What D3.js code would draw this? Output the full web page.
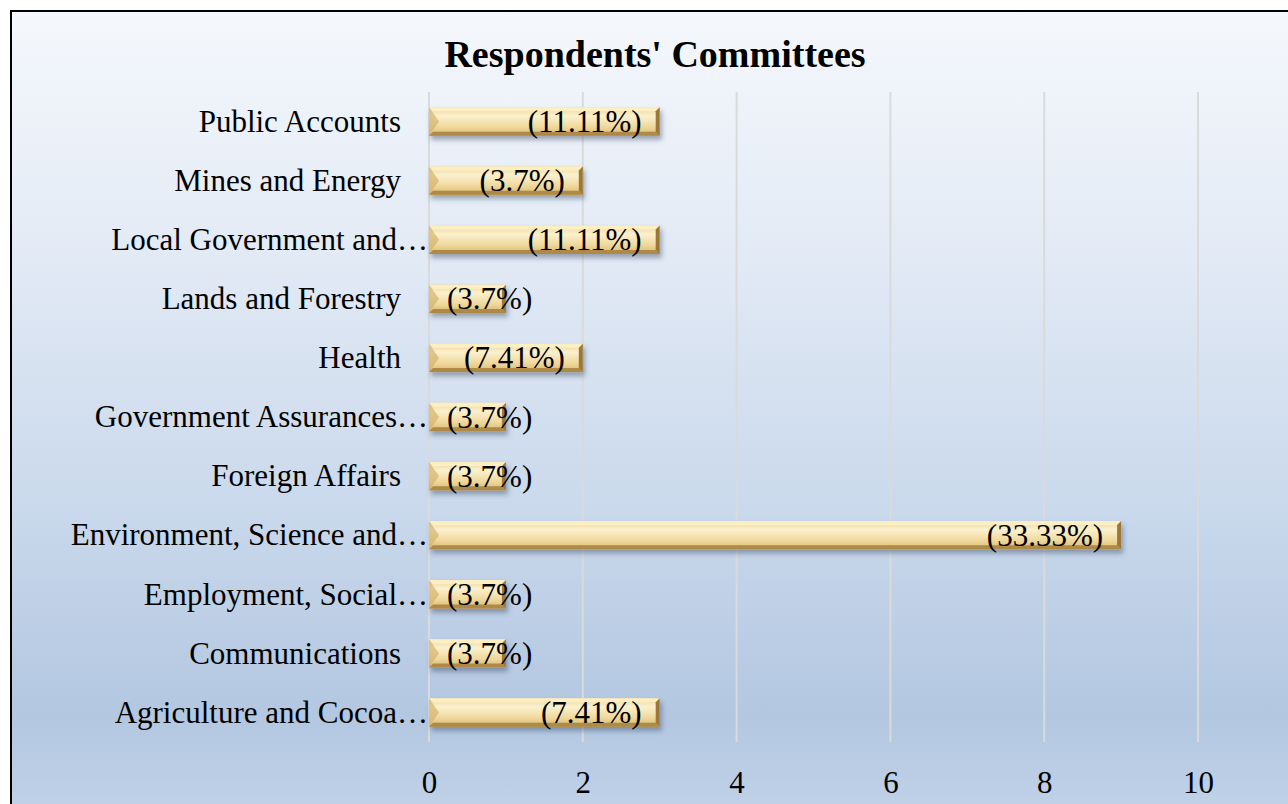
<!DOCTYPE html>
<html>
<head>
<meta charset="utf-8">
<script src="https://cdn.jsdelivr.net/npm/d3@7"></script>
<style>
  html, body { margin: 0; padding: 0; background: #ffffff; }
  svg { display: block; }
  text { font-family: "Liberation Serif", "Times New Roman", serif; fill: #000; }
</style>
</head>
<body>
<svg id="chart" width="1288" height="804"></svg>
<script>
// Committees of the respondents (top to bottom as listed)
const committees = [
  "Public Accounts",
  "Mines and Energy",
  "Local Government and\u2026",
  "Lands and Forestry",
  "Health",
  "Government Assurances\u2026",
  "Foreign Affairs",
  "Environment, Science and\u2026",
  "Employment, Social\u2026",
  "Communications",
  "Agriculture and Cocoa\u2026"
];
// Number of respondents per committee
const counts = [3, 2, 3, 1, 2, 1, 1, 9, 1, 1, 3];
// Share labels shown on each bar
const shareLabels = ["(11.11%)", "(3.7%)", "(11.11%)", "(3.7%)", "(7.41%)", "(3.7%)",
                     "(3.7%)", "(33.33%)", "(3.7%)", "(3.7%)", "(7.41%)"];
const xTicks = [0, 2, 4, 6, 8, 10];
const title = "Respondents' Committees";

const svg = d3.select("#chart");
const defs = svg.append("defs");

// Chart area background: soft blue gradient
const bg = defs.append("linearGradient").attr("id", "bgGrad")
  .attr("x1", 0).attr("y1", 0).attr("x2", 0).attr("y2", 1);
[[0, "#f5f8fc"], [0.3, "#e2eaf5"], [0.6, "#cad9ec"], [0.86, "#b3c7e1"], [1, "#c3d4e9"]]
  .forEach(([o, c]) => bg.append("stop").attr("offset", o).attr("stop-color", c));

// Gold bar face
const face = defs.append("linearGradient").attr("id", "barFace")
  .attr("x1", 0).attr("y1", 0).attr("x2", 0).attr("y2", 1);
[[0, "#ecd595"], [0.3, "#fbf1cf"], [0.7, "#efd79a"], [1, "#d6b770"]]
  .forEach(([o, c]) => face.append("stop").attr("offset", o).attr("stop-color", c));

const shadow = defs.append("filter").attr("id", "barShadow")
  .attr("x", "-5%").attr("y", "-30%").attr("width", "115%").attr("height", "190%");
shadow.append("feDropShadow").attr("dx", 2).attr("dy", 4)
  .attr("stdDeviation", 2.5).attr("flood-color", "#3a4a60").attr("flood-opacity", 0.45);

// Frame
svg.append("rect").attr("x", 11).attr("y", 11).attr("width", 1300).attr("height", 820)
  .attr("fill", "url(#bgGrad)").attr("stroke", "#000").attr("stroke-width", 2);

// Title
svg.append("text").attr("x", 655).attr("y", 67).attr("text-anchor", "middle")
  .style("font-size", "38px").style("font-weight", "bold").text(title);

// Scales
const x = d3.scaleLinear().domain([0, 10]).range([429, 1198]);
const y = d3.scaleBand().domain(committees).range([92, 742]).paddingInner(0.52).paddingOuter(0.26);

// Vertical gridlines
svg.append("g").selectAll("line").data(xTicks).join("line")
  .attr("x1", d => x(d)).attr("x2", d => x(d))
  .attr("y1", 92).attr("y2", 742)
  .attr("stroke", "#d9dadb").attr("stroke-width", 2);

// X axis tick labels
const xAxis = d3.axisBottom(x).tickValues(xTicks).tickSize(0).tickPadding(0);
const gx = svg.append("g").attr("transform", "translate(0,768)").call(xAxis);
gx.select(".domain").remove();
gx.selectAll("text").attr("dy", "0.8em").style("font-size", "31px")
  .style("font-family", "'Liberation Serif', 'Times New Roman', serif").attr("fill", "#000");

// Category labels (truncated names spill toward the axis)
const gy = svg.append("g");
gy.selectAll("text").data(committees).join("text")
  .attr("x", d => d.endsWith("\u2026") ? 428 : 401)
  .attr("y", d => y(d) + y.bandwidth() / 2)
  .attr("dy", "0.33em").attr("text-anchor", "end")
  .style("font-size", "31px").text(d => d);

// Bars with bevelled edges
const data = committees.map((c, i) => ({ c, v: counts[i], lab: shareLabels[i] }));
const bars = svg.append("g").selectAll("g").data(data).join("g")
  .attr("filter", "url(#barShadow)");

bars.each(function (d) {
  const g = d3.select(this);
  const x0 = x(0), x1 = x(d.v), y0 = y(d.c), h = y.bandwidth(), y1 = y0 + h;
  const b = 4; // bevel width
  g.append("rect").attr("x", x0).attr("y", y0).attr("width", x1 - x0).attr("height", h)
    .attr("fill", "url(#barFace)");
  // top edge
  g.append("polygon").attr("points", [[x0, y0], [x1, y0], [x1 - b, y0 + b], [x0 + b, y0 + b]].join(" "))
    .attr("fill", "#fff2c8").attr("opacity", 0.85);
  // bottom edge
  g.append("polygon").attr("points", [[x0, y1], [x1, y1], [x1 - b, y1 - b], [x0 + b, y1 - b]].join(" "))
    .attr("fill", "#aa843f").attr("opacity", 0.9);
  // left end
  g.append("polygon").attr("points", [[x0, y0], [x0 + b + 6, y0 + h / 2], [x0, y1]].join(" "))
    .attr("fill", "#d4b46e").attr("opacity", 0.7);
  // right end
  g.append("polygon").attr("points", [[x1, y0], [x1, y1], [x1 - b, y1 - b], [x1 - b, y0 + b]].join(" "))
    .attr("fill", "#9c7737");
});

// Share labels, placed inside the bar end
const labels = svg.append("g").selectAll("text").data(data).join("text")
  .attr("y", d => y(d.c) + y.bandwidth() / 2).attr("dy", "0.34em")
  .attr("text-anchor", "end").style("font-size", "31px").text(d => d.lab);
labels.attr("x", function (d) {
  const w = this.getComputedTextLength();
  return Math.max(x(d.v) - 18, x(0) + 18 + w);
});
</script>
</body>
</html>
